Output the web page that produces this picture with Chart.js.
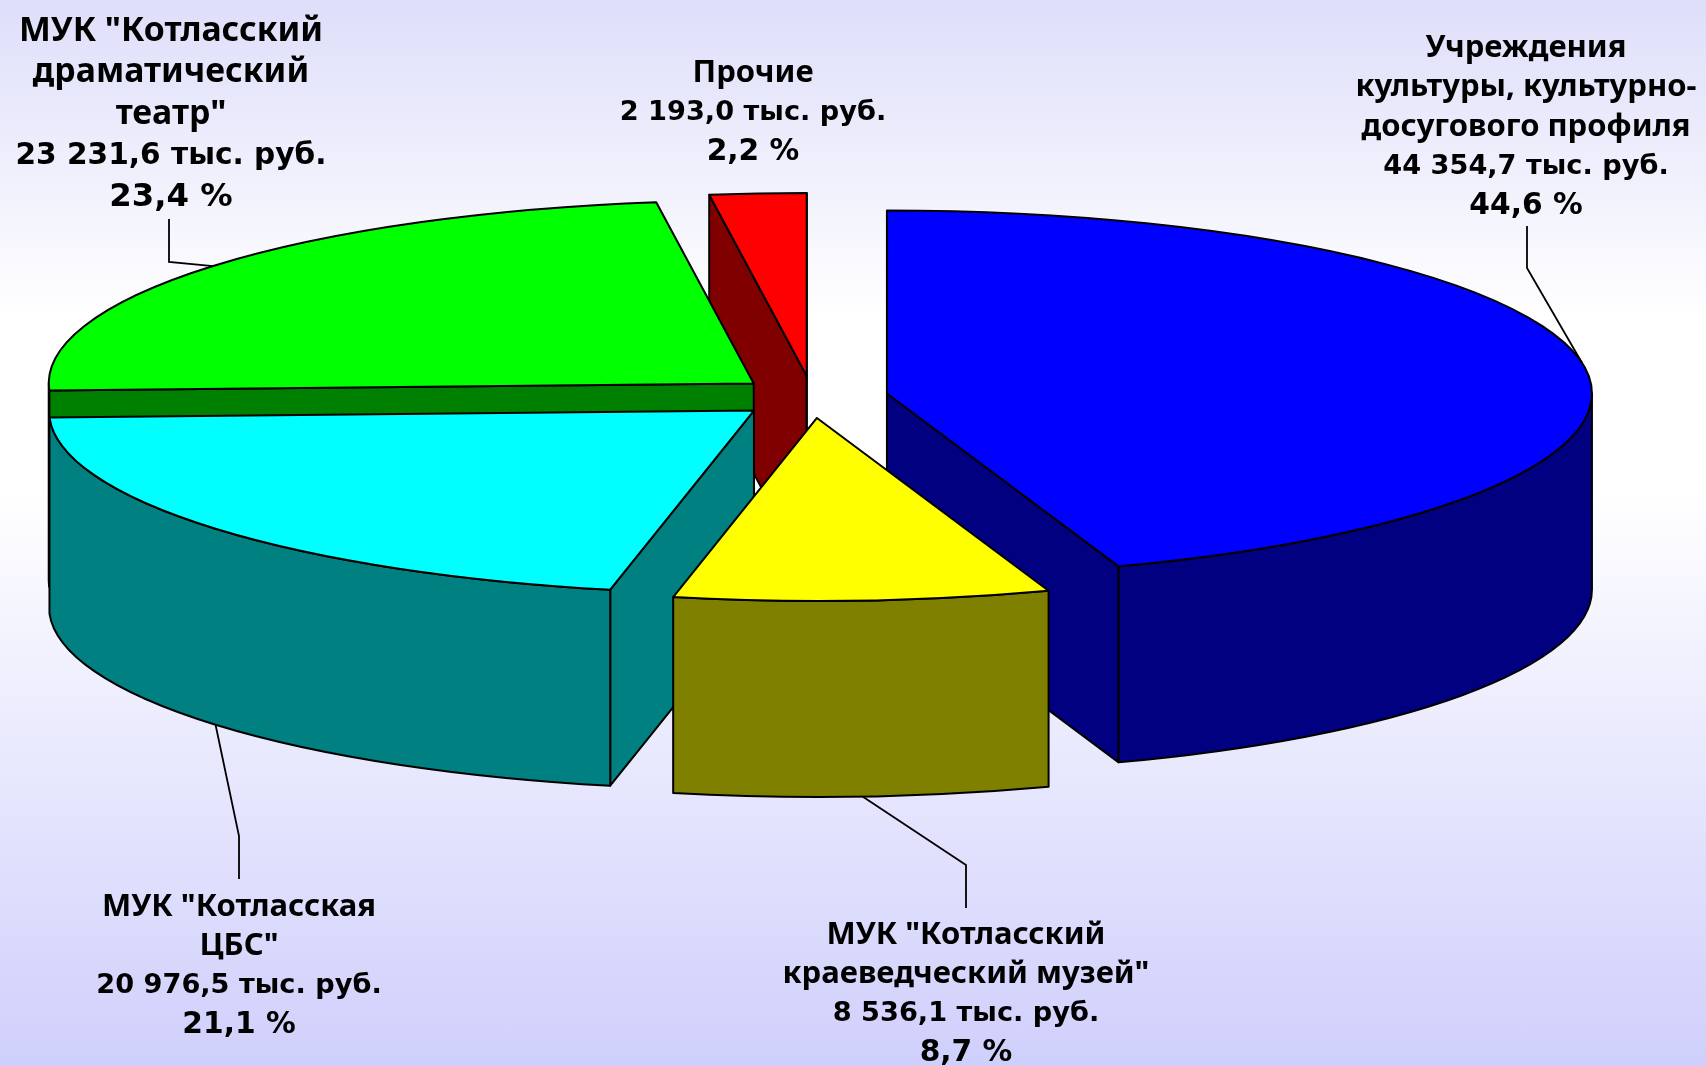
<!DOCTYPE html>
<html>
<head>
<meta charset="utf-8">
<title>Расходы на культуру</title>
<script src="https://cdn.jsdelivr.net/npm/chart.js@4"></script>
<style>
  html, body { margin: 0; padding: 0; }
  body { width: 1706px; height: 1066px; overflow: hidden;
    background: linear-gradient(to bottom, #dedefa 0%, #ffffff 30%, #ffffff 46%, #cfcffc 100%); }
  canvas { display: block; }
</style>
</head>
<body>
<canvas id="grafico" width="1706" height="1066"></canvas>
<script>
// Dados do grafico
const categorias = ['Учреждения культуры, культурно-досугового профиля', 'МУК "Котласский краеведческий музей"', 'МУК "Котласская ЦБС"', 'МУК "Котласский драматический театр"', 'Прочие'];
const valores = [44354.7, 8536.1, 20976.5, 23231.6, 2193.0];
const cores = ['#0000ff', '#ffff00', '#00ffff', '#00ff00', '#ff0000'];
const coresEscuras = ['#000080', '#808000', '#008080', '#008000', '#800000'];

// Linhas de texto de cada rotulo
const rotulos = [
    ['Учреждения', 'культуры, культурно-', 'досугового профиля', '44 354,7 тыс. руб.', '44,6 %'],
    ['МУК "Котласский', 'краеведческий музей"', '8 536,1 тыс. руб.', '8,7 %'],
    ['МУК "Котласская', 'ЦБС"', '20 976,5 тыс. руб.', '21,1 %'],
    ['МУК "Котласский', 'драматический', 'театр"', '23 231,6 тыс. руб.', '23,4 %'],
    ['Прочие', '2 193,0 тыс. руб.', '2,2 %']
];
const rotuloX = [1526, 966, 239, 171, 753];
const rotuloY = [48, 935, 907, 31, 73];
const alturaLinha = [39.5, 39.5, 39.5, 41.7, 39.5];
const escalaFonte = [1, 1, 1, 1.09, 1];

// Cotovelos das linhas de chamada (Прочие nao tem)
const chamadas = [
    [[1527, 268], [1527, 226]],
    [[966, 865], [966, 908]],
    [[239, 836], [239, 879]],
    [[169, 262], [169, 219]],
    null
];

// Geometria do "3D"
const raioX = 705;
const raioY = 183;
const altura = 196;
const explodeX = 76;
const explodeY = 21;
const ordemDesenho = [4, 3, 0, 2, 1];

function geometria(arc) {
    const meio = (arc.startAngle + arc.endAngle) / 2;
    return {
        x: arc.x + Math.cos(meio) * explodeX,
        y: arc.y + Math.sin(meio) * explodeY,
        meio: meio
    };
}

function borda(g, ang, desce) {
    return [g.x + Math.cos(ang) * raioX, g.y + Math.sin(ang) * raioY + (desce || 0)];
}

function pintar(ctx, cor) {
    ctx.fillStyle = cor;
    ctx.fill();
    ctx.stroke();
}

function paredeCorte(ctx, g, ang, cor) {
    const p = borda(g, ang);
    ctx.beginPath();
    ctx.moveTo(g.x, g.y);
    ctx.lineTo(p[0], p[1]);
    ctx.lineTo(p[0], p[1] + altura);
    ctx.lineTo(g.x, g.y + altura);
    ctx.closePath();
    pintar(ctx, cor);
}

function paredeExterna(ctx, g, ini, fim, cor) {
    // so a parte da frente aparece
    const a = Math.max(ini, 0);
    const b = Math.min(fim, Math.PI);
    if (b <= a) return;
    ctx.beginPath();
    ctx.ellipse(g.x, g.y, raioX, raioY, 0, a, b);
    ctx.ellipse(g.x, g.y + altura, raioX, raioY, 0, b, a, true);
    ctx.closePath();
    pintar(ctx, cor);
}

// nomes em Noto, numeros em DejaVu (mais largos, como no original)
function fonteDaLinha(txt, escala) {
    if (txt.includes('%')) return 'bold ' + 29.7 * escala + 'px "DejaVu Sans"';
    if (/^\d/.test(txt)) return 'bold ' + 27.2 * escala + 'px "DejaVu Sans"';
    return 'bold ' + 31 * escala + 'px "Noto Sans"';
}

const pizza3d = {
    id: 'pizza3d',
    beforeDatasetDraw(chart) {
        const ctx = chart.ctx;
        const arcos = chart.getDatasetMeta(0).data;
        ctx.save();
        ctx.lineWidth = 2;
        ctx.strokeStyle = '#000000';
        ctx.lineJoin = 'round';
        ordemDesenho.forEach(i => {
            const arc = arcos[i];
            const g = geometria(arc);
            // paredes de corte que ficam de frente para quem olha
            if (Math.cos(arc.startAngle) < -1e-6) paredeCorte(ctx, g, arc.startAngle, coresEscuras[i]);
            if (Math.cos(arc.endAngle) > -1e-6) paredeCorte(ctx, g, arc.endAngle, coresEscuras[i]);
            paredeExterna(ctx, g, arc.startAngle, arc.endAngle, coresEscuras[i]);

            // face de cima: o proprio arco do Chart.js achatado
            ctx.save();
            ctx.translate(g.x, g.y);
            ctx.scale(raioX / arc.outerRadius, raioY / arc.outerRadius);
            ctx.translate(-arc.x, -arc.y);
            arc.draw(ctx);
            ctx.restore();

            ctx.beginPath();
            ctx.moveTo(g.x, g.y);
            ctx.ellipse(g.x, g.y, raioX, raioY, 0, arc.startAngle, arc.endAngle);
            ctx.closePath();
            ctx.stroke();
        });
        ctx.restore();
        return false;
    },
    afterDraw(chart) {
        const ctx = chart.ctx;
        const arcos = chart.getDatasetMeta(0).data;
        ctx.save();
        ctx.strokeStyle = '#000000';
        ctx.lineWidth = 1.8;
        arcos.forEach((arc, i) => {
            if (!chamadas[i]) return;
            const g = geometria(arc);
            const p = borda(g, g.meio, Math.sin(g.meio) > 0 ? altura : 0);
            ctx.beginPath();
            ctx.moveTo(p[0], p[1]);
            chamadas[i].forEach(c => ctx.lineTo(c[0], c[1]));
            ctx.stroke();
        });
        ctx.fillStyle = '#000000';
        ctx.textAlign = 'center';
        ctx.textBaseline = 'middle';
        rotulos.forEach((linhas, i) => {
            linhas.forEach((txt, n) => {
                ctx.font = fonteDaLinha(txt, escalaFonte[i]);
                ctx.fillText(txt, rotuloX[i], rotuloY[i] + n * alturaLinha[i]);
            });
        });
        ctx.restore();
    }
};

new Chart(document.getElementById('grafico').getContext('2d'), {
    type: 'pie',
    data: {
        labels: categorias,
        datasets: [{
            data: valores,
            backgroundColor: cores,
            borderWidth: 0
        }]
    },
    options: {
        responsive: false,
        animation: false,
        // centro da pizza em (812, 397)
        layout: { padding: { right: 82, bottom: 272 } },
        plugins: {
            legend: { display: false },
            tooltip: { enabled: false }
        }
    },
    plugins: [pizza3d]
});
</script>
</body>
</html>
